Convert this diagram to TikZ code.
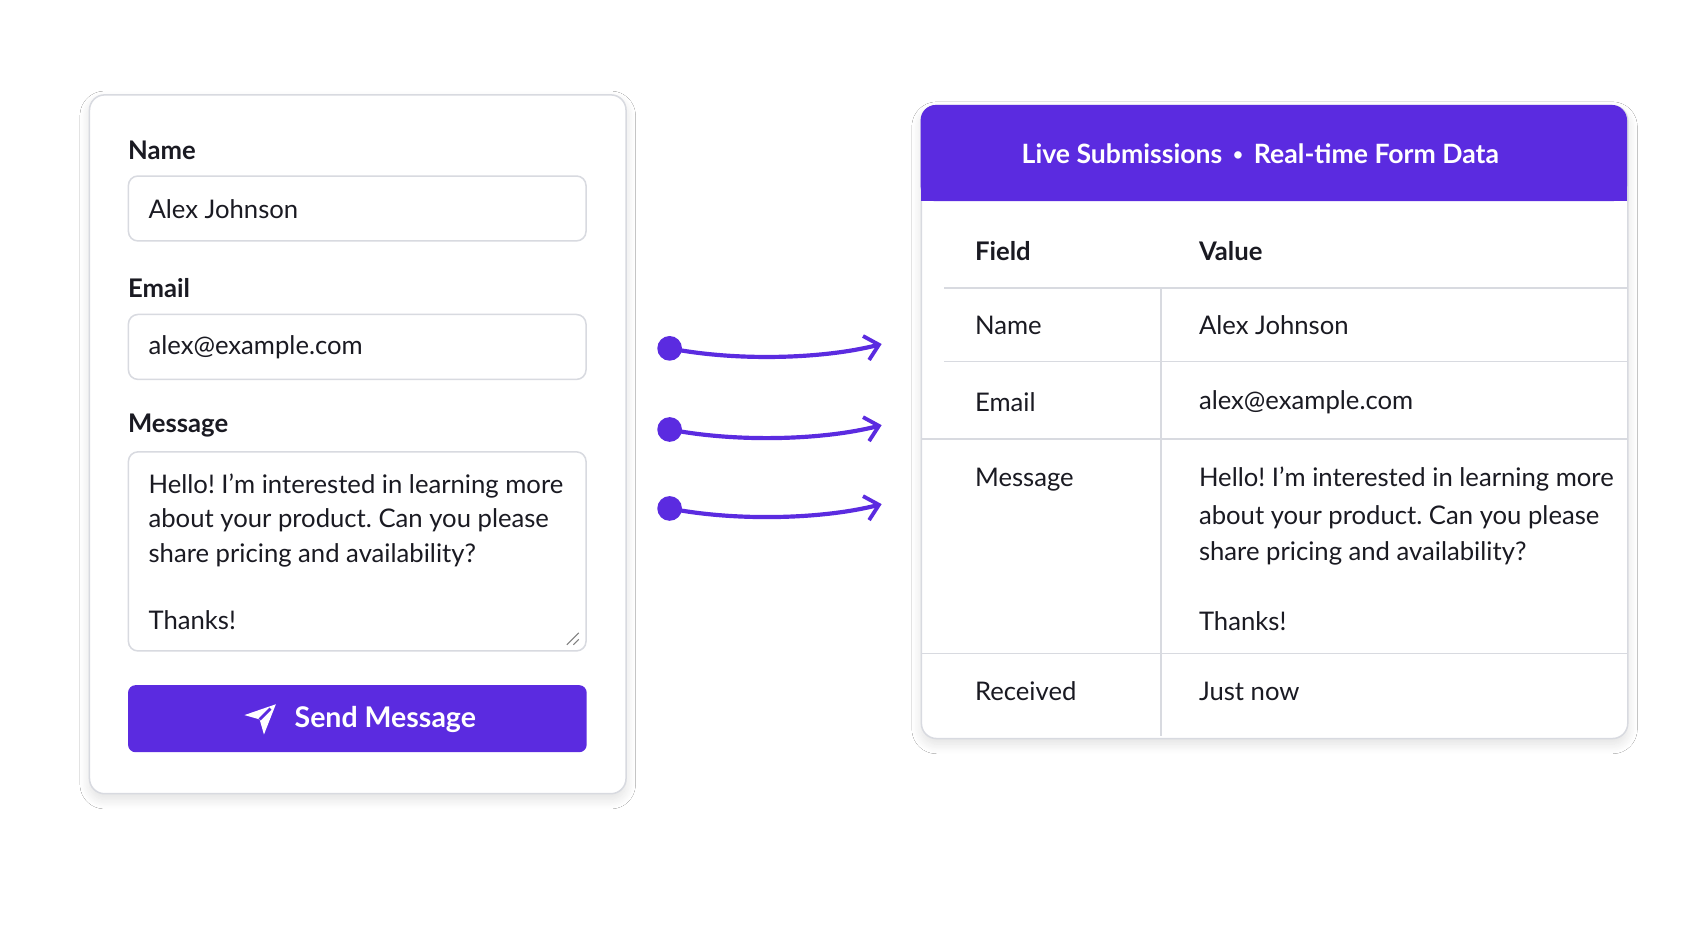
\documentclass[tikz,border=0pt]{standalone}
\usepackage{fontspec}
\setmainfont{Lato}
\frenchspacing
\usetikzlibrary{shadows.blur,arrows.meta}
\definecolor{pur}{HTML}{5B2BE0}
\definecolor{bord}{HTML}{D8DAE0}
\definecolor{ink}{HTML}{1A1A22}
\tikzset{x=0.02cm,y=-0.02cm,
 card/.style={draw=bord,line width=0.8pt,fill=white,rounded corners=8pt,blur shadow={shadow blur steps=12,shadow blur extra rounding=4pt,shadow blur radius=5pt,shadow xshift=0pt,shadow yshift=-3pt,shadow opacity=12}},
 field/.style={draw=bord,line width=0.8pt,fill=white,rounded corners=5pt},
 lbl/.style={anchor=west,font=\fontsize{13.5}{16}\selectfont\bfseries,text=ink,inner sep=0},
 txt/.style={anchor=west,font=\fontsize{13.5}{16}\selectfont,text=ink,inner sep=0},
 sep/.style={draw=bord,line width=0.8pt},
 flow/.style={pur,line width=2.2pt,-{Straight Barb[length=7pt,width=13pt,line width=2pt]}},
 dot/.style={circle,fill=pur,inner sep=0,minimum size=13pt}}
\begin{document}
\begin{tikzpicture}
\fill[white] (0,0) rectangle (1565,859);
\useasboundingbox (0,0) rectangle (1565,859);
% left form
\node[card,minimum width=496*0.02cm,minimum height=646*0.02cm,anchor=north west,inner sep=0] (form) at (82,87) {};
\node[lbl] (ln) at (118,139) {Name};
\node[field,anchor=north west,minimum width=423*0.02cm,minimum height=60*0.02cm,inner sep=0] (fn) at (118,162) {};
\node[txt] (tn) at (137,193) {Alex Johnson};
\node[lbl] (le) at (118,266) {Email};
\node[field,anchor=north west,minimum width=423*0.02cm,minimum height=60*0.02cm,inner sep=0] (fe) at (118,290) {};
\node[txt] (te) at (137,321) {alex@example.com};
\node[lbl] (lm) at (118,393) {Message};
\node[field,anchor=north west,minimum width=423*0.02cm,minimum height=184*0.02cm,inner sep=0] (fm) at (118,417) {};
\node[txt] (m1) at (137,449) {Hello! I’m interested in learning more};
\node[txt] (m2) at (137,481) {about your product. Can you please};
\node[txt] (m3) at (137,513) {share pricing and availability?};
\node[txt] (m4) at (137,573) {Thanks!};
\draw[gray,line width=0.6pt] (524,596) -- (535,585) (530,596) -- (535,591);
\node[fill=pur,rounded corners=4pt,anchor=north west,minimum width=424*0.02cm,minimum height=62*0.02cm,inner sep=0] (btn) at (118,633) {};
\node[anchor=west,font=\fontsize{15}{18}\selectfont\bfseries,text=white,inner sep=0] (bt) at (272,665) {Send Message};
\fill[white] (226,661) -- (255,651) -- (244,679) -- (240,665) -- cycle;
\draw[pur,line width=1.5pt] (240,665) -- (250,655);
% arrows
\foreach \i/\y in {1/322,2/397,3/470}{
 \node[dot] (s\i) at (619,\y) {};
 \coordinate (t\i) at (815,\y-4);
 \draw[flow] (s\i.center) .. controls (680,\y+12) and (760,\y+10) .. (t\i);
}
% right table
\node[card,minimum width=653*0.02cm,minimum height=585*0.02cm,anchor=north west,inner sep=0] (tab) at (851,97) {};
\fill[pur,rounded corners=8pt] (851,186) -- (851,97) -- (1504,97) -- (1504,186) -- cycle;
\fill[pur] (851,170) rectangle (1504,186);
\node[font=\fontsize{14}{17}\selectfont\bfseries,text=white] (hd) at (1165,142) {Live Submissions \,{\fontsize{9}{9}\selectfont\raisebox{1.5pt}{•}}\, Real-time Form Data};
\node[lbl] (hf) at (901,232) {Field};
\node[lbl] (hv) at (1108,232) {Value};
\draw[sep] (873,266) -- (1504,266);
\draw[sep] (873,334) -- (1504,334);
\draw[sep] (851,406) -- (1504,406);
\draw[sep] (851,604) -- (1504,604);
\draw[sep] (1073,266) -- (1073,680);
\node[txt] (r1) at (901,301) {Name};
\node[txt] (v1) at (1108,301) {Alex Johnson};
\node[txt] (r2) at (901,372) {Email};
\node[txt] (v2) at (1108,372) {alex@example.com};
\node[txt] (r3) at (901,443) {Message};
\node[txt] (v3) at (1108,443) {Hello! I’m interested in learning more};
\node[txt] (v4) at (1108,478) {about your product. Can you please};
\node[txt] (v5) at (1108,512) {share pricing and availability?};
\node[txt] (v6) at (1108,574) {Thanks!};
\node[txt] (r4) at (901,639) {Received};
\node[txt] (v7) at (1108,639) {Just now};
\end{tikzpicture}
\end{document}
